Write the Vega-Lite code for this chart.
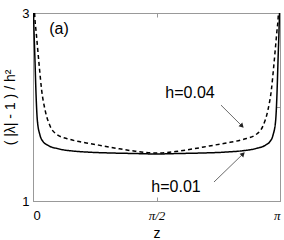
{
  "$schema": "https://vega.github.io/schema/vega-lite/v6.json",
  "width": 247,
  "height": 188,
  "autosize": {"type": "none"},
  "padding": {"left": 33, "top": 13, "right": 4, "bottom": 39},
  "background": "white",
  "config": {
    "font": "Liberation Sans",
    "view": {"stroke": "#999", "strokeWidth": 1},
    "axis": {"grid": false, "domainColor": "#999", "tickColor": "#999", "labelColor": "black", "titleColor": "black", "titleFontWeight": "normal"}
  },
  "datasets": {
    "curves": [
      {"series": "h=0.01", "z": 0.006, "v": 3.0},
      {"series": "h=0.01", "z": 0.015, "v": 2.75},
      {"series": "h=0.01", "z": 0.025, "v": 2.5},
      {"series": "h=0.01", "z": 0.038, "v": 2.15},
      {"series": "h=0.01", "z": 0.055, "v": 1.86},
      {"series": "h=0.01", "z": 0.089, "v": 1.7},
      {"series": "h=0.01", "z": 0.13, "v": 1.63},
      {"series": "h=0.01", "z": 0.174, "v": 1.6},
      {"series": "h=0.01", "z": 0.216, "v": 1.58},
      {"series": "h=0.01", "z": 0.30, "v": 1.56},
      {"series": "h=0.01", "z": 0.38, "v": 1.545},
      {"series": "h=0.01", "z": 0.47, "v": 1.535},
      {"series": "h=0.01", "z": 0.70, "v": 1.52},
      {"series": "h=0.01", "z": 1.02, "v": 1.51},
      {"series": "h=0.01", "z": 1.3, "v": 1.505},
      {"series": "h=0.01", "z": 1.5708, "v": 1.5},
      {"series": "h=0.01", "z": 1.8416, "v": 1.505},
      {"series": "h=0.01", "z": 2.1216, "v": 1.51},
      {"series": "h=0.01", "z": 2.4416, "v": 1.52},
      {"series": "h=0.01", "z": 2.6716, "v": 1.535},
      {"series": "h=0.01", "z": 2.7616, "v": 1.545},
      {"series": "h=0.01", "z": 2.8416, "v": 1.56},
      {"series": "h=0.01", "z": 2.9256, "v": 1.58},
      {"series": "h=0.01", "z": 2.9676, "v": 1.6},
      {"series": "h=0.01", "z": 3.0116, "v": 1.63},
      {"series": "h=0.01", "z": 3.0526, "v": 1.7},
      {"series": "h=0.01", "z": 3.0866, "v": 1.86},
      {"series": "h=0.01", "z": 3.1036, "v": 2.15},
      {"series": "h=0.01", "z": 3.1166, "v": 2.5},
      {"series": "h=0.01", "z": 3.1266, "v": 2.75},
      {"series": "h=0.01", "z": 3.1356, "v": 3.0},
      {"series": "h=0.04", "z": 0.02, "v": 3.0},
      {"series": "h=0.04", "z": 0.025, "v": 2.93},
      {"series": "h=0.04", "z": 0.04, "v": 2.8},
      {"series": "h=0.04", "z": 0.055, "v": 2.66},
      {"series": "h=0.04", "z": 0.08, "v": 2.43},
      {"series": "h=0.04", "z": 0.11, "v": 2.18},
      {"series": "h=0.04", "z": 0.153, "v": 1.97},
      {"series": "h=0.04", "z": 0.216, "v": 1.8},
      {"series": "h=0.04", "z": 0.30, "v": 1.71},
      {"series": "h=0.04", "z": 0.47, "v": 1.655},
      {"series": "h=0.04", "z": 0.7, "v": 1.615},
      {"series": "h=0.04", "z": 0.9, "v": 1.585},
      {"series": "h=0.04", "z": 1.1, "v": 1.555},
      {"series": "h=0.04", "z": 1.3, "v": 1.53},
      {"series": "h=0.04", "z": 1.5708, "v": 1.51},
      {"series": "h=0.04", "z": 1.8416, "v": 1.53},
      {"series": "h=0.04", "z": 2.0416, "v": 1.555},
      {"series": "h=0.04", "z": 2.2416, "v": 1.585},
      {"series": "h=0.04", "z": 2.4416, "v": 1.615},
      {"series": "h=0.04", "z": 2.6716, "v": 1.655},
      {"series": "h=0.04", "z": 2.8416, "v": 1.71},
      {"series": "h=0.04", "z": 2.9256, "v": 1.8},
      {"series": "h=0.04", "z": 2.9886, "v": 1.97},
      {"series": "h=0.04", "z": 3.0316, "v": 2.18},
      {"series": "h=0.04", "z": 3.0616, "v": 2.43},
      {"series": "h=0.04", "z": 3.0866, "v": 2.66},
      {"series": "h=0.04", "z": 3.1016, "v": 2.8},
      {"series": "h=0.04", "z": 3.1166, "v": 2.93},
      {"series": "h=0.04", "z": 3.1216, "v": 3.0}
    ],
    "arrows": [
      {"label": "h=0.04", "z1": 2.391, "v1": 2.02, "z2": 2.671, "v2": 1.787},
      {"label": "h=0.01", "z1": 2.302, "v1": 1.202, "z2": 2.684, "v2": 1.511}
    ],
    "texts": [
      {"label": "h=0.04", "z": 1.997, "v": 2.149},
      {"label": "h=0.01", "z": 1.819, "v": 1.149},
      {"label": "(a)", "z": 0.331, "v": 2.83}
    ]
  },
  "layer": [
    {
      "data": {"name": "curves"},
      "mark": {"type": "line", "strokeWidth": 1.5, "clip": true, "interpolate": "monotone"},
      "encoding": {
        "x": {
          "field": "z", "type": "quantitative",
          "scale": {"domain": [0, 3.14159], "nice": false, "zero": false},
          "axis": {
            "orient": "bottom", "values": [0, 1.5708, 3.14159],
            "labelExpr": "datum.value < 0.1 ? '0' : (datum.value < 2 ? 'π/2' : 'π')",
            "labelFontSize": 13,
            "labelFont": {"condition": {"test": "datum.value > 0.1", "value": "Liberation Serif"}, "value": "Liberation Sans"},
            "labelFontStyle": {"condition": {"test": "datum.value > 0.1", "value": "italic"}, "value": "normal"},
            "tickSize": -4, "labelPadding": 12,
            "title": "z", "titleFontSize": 14, "titleY": 32, "titleBaseline": "middle"
          }
        },
        "y": {
          "field": "v", "type": "quantitative",
          "scale": {"domain": [1, 3], "nice": false, "zero": false},
          "axis": {
            "orient": "left", "values": [1, 2, 3], "format": "d",
            "labelFontSize": 13, "tickSize": -4, "labelPadding": 8,
            "title": "( |λ| - 1 ) / h²", "titleFontSize": 14,
            "titleX": -23, "titleY": 94, "titleAngle": -90, "titleAlign": "center", "titleBaseline": "middle"
          }
        },
        "color": {"field": "series", "type": "nominal", "scale": {"range": ["black", "black"]}, "legend": null},
        "strokeDash": {"field": "series", "type": "nominal", "scale": {"domain": ["h=0.01", "h=0.04"], "range": [[1, 0], [4, 3]]}, "legend": null}
      }
    },
    {
      "data": {"name": "arrows"},
      "mark": {"type": "rule", "color": "#444", "strokeWidth": 0.8},
      "encoding": {
        "x": {"field": "z1", "type": "quantitative", "axis": {"orient": "top", "values": [0, 1.5708, 3.14159], "labels": false, "tickSize": -4, "title": null}},
        "y": {"field": "v1", "type": "quantitative", "axis": {"orient": "right", "values": [1, 2, 3], "labels": false, "tickSize": -4, "title": null}},
        "x2": {"field": "z2"},
        "y2": {"field": "v2"}
      }
    },
    {
      "data": {"name": "arrows"},
      "transform": [{"filter": "datum.label == 'h=0.04'"}],
      "mark": {"type": "point", "shape": "triangle", "filled": true, "color": "#222", "size": 28, "angle": 135, "opacity": 1, "xOffset": -1.5, "yOffset": -1.5},
      "encoding": {
        "x": {"field": "z2", "type": "quantitative", "axis": null},
        "y": {"field": "v2", "type": "quantitative", "axis": null}
      }
    },
    {
      "data": {"name": "arrows"},
      "transform": [{"filter": "datum.label == 'h=0.01'"}],
      "mark": {"type": "point", "shape": "triangle", "filled": true, "color": "#222", "size": 28, "angle": 45, "opacity": 1, "xOffset": -1.5, "yOffset": 1.5},
      "encoding": {
        "x": {"field": "z2", "type": "quantitative", "axis": null},
        "y": {"field": "v2", "type": "quantitative", "axis": null}
      }
    },
    {
      "data": {"name": "texts"},
      "mark": {"type": "text", "fontSize": 16, "color": "black", "align": "center", "baseline": "middle"},
      "encoding": {
        "x": {"field": "z", "type": "quantitative", "axis": null},
        "y": {"field": "v", "type": "quantitative", "axis": null},
        "text": {"field": "label"}
      }
    }
  ],
  "resolve": {"axis": {"x": "independent", "y": "independent"}}
}
